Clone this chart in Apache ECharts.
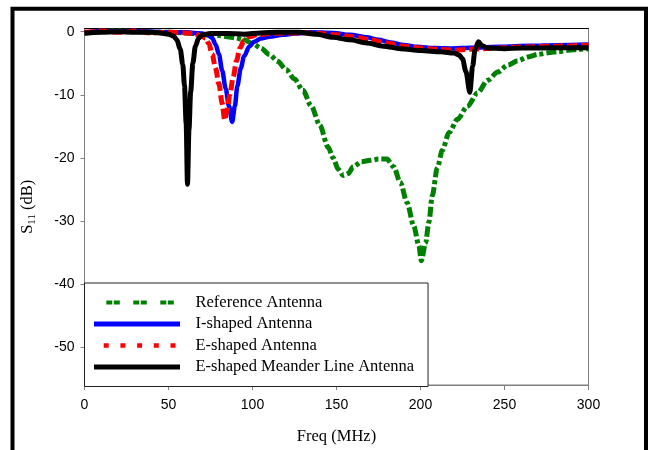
<!DOCTYPE html>
<html>
<head>
<meta charset="utf-8">
<script src="https://cdn.jsdelivr.net/npm/echarts@6/dist/echarts.min.js"></script>
<style>
  html, body { margin: 0; padding: 0; background: #fff; }
  #chart { width: 654px; height: 450px; }
</style>
</head>
<body>
<div id="chart"></div>
<script>
// Return loss S11 (dB) versus frequency (MHz) for four antenna designs.
const seriesNames = ['Reference Antenna', 'I-shaped Antenna', 'E-shaped Antenna', 'E-shaped Meander Line Antenna'];

const refFreq = [0, 10, 20, 30, 40, 50, 60, 65, 70, 75, 80, 85, 90, 95, 100, 105, 110, 115, 120, 125, 130, 135, 140, 145, 148, 151, 154, 157, 160, 165, 170, 175, 180, 184, 188, 192, 196, 199, 200.5, 203, 205, 207, 210, 213, 217, 222, 228, 234, 240, 246, 252, 258, 264, 270, 276, 282, 288, 294, 300];
const refS11 = [-0.3, 0, 0.1, 0, -0.1, -0.1, -0.2, -0.3, -0.5, -0.6, -0.6, -0.8, -1.0, -1.3, -1.9, -2.6, -3.6, -4.7, -6.0, -7.5, -9.3, -11.8, -14.8, -18.3, -20.0, -21.8, -22.8, -22.5, -21.4, -20.6, -20.4, -20.2, -20.2, -21.4, -23.9, -27.1, -30.8, -33.9, -36.3, -33.5, -30.2, -26.0, -21.6, -18.8, -16.0, -13.9, -11.8, -9.7, -7.7, -6.4, -5.3, -4.6, -4.0, -3.6, -3.35, -3.15, -2.95, -2.8, -2.7];

const iFreq = [0, 10, 20, 30, 40, 50, 60, 65, 70, 73, 76, 78, 80, 82, 84, 86, 87.9, 89.5, 91, 93, 95, 98, 101, 105, 110, 118, 125, 135, 148, 158, 168, 175, 182, 190, 198, 208, 218, 230, 248, 265, 282, 300];
const iS11 = [-0.2, 0.1, 0, 0.1, 0, -0.1, -0.1, -0.2, -0.3, -0.5, -1.0, -2.0, -3.6, -6.2, -9.0, -11.8, -14.3, -11.8, -8.6, -5.8, -3.9, -2.4, -1.6, -1.1, -0.8, -0.5, -0.3, -0.1, -0.2, -0.5, -0.9, -1.3, -1.7, -2.1, -2.4, -2.6, -2.65, -2.55, -2.4, -2.25, -2.15, -2.05];

const eFreq = [0, 10, 20, 30, 40, 50, 60, 65, 69, 72, 74, 76, 78, 80, 82, 83.4, 85, 86.5, 88.5, 90.5, 92.5, 95, 98, 103, 110, 120, 130, 140, 150, 160, 170, 180, 190, 200, 210, 220, 230, 245, 260, 280, 300];
const eS11 = [-0.1, 0.1, -0.1, 0.1, -0.2, -0.1, -0.2, -0.3, -0.6, -1.0, -1.9, -3.6, -5.8, -8.3, -11.4, -14.0, -12.3, -10.0, -7.2, -4.6, -2.6, -1.4, -0.8, -0.5, -0.3, -0.2, -0.2, -0.3, -0.5, -0.8, -1.3, -1.8, -2.3, -2.6, -2.8, -2.9, -2.8, -2.6, -2.45, -2.3, -2.15];

const meanderFreq = [0, 10, 20, 30, 40, 45, 50, 53, 55, 57, 58.5, 59.5, 60.5, 61.3, 62.2, 63.2, 64.5, 66, 68, 70, 75, 85, 95, 105, 115, 128, 138, 148, 158, 168, 178, 188, 200, 212, 220, 223, 225, 227, 229.4, 231, 232.5, 234.5, 236.5, 240, 250, 260, 280, 300];
const meanderS11 = [-0.2, -0.1, 0, -0.1, -0.1, -0.2, -0.4, -0.7, -1.3, -2.8, -5.2, -8.5, -14.5, -24.2, -15.5, -9.5, -5.0, -2.3, -1.0, -0.5, -0.3, -0.3, -0.4, -0.2, -0.1, -0.1, -0.4, -0.9, -1.3, -1.8, -2.3, -2.7, -3.0, -3.2, -3.4, -3.7, -4.3, -6.3, -9.6, -5.5, -2.8, -1.6, -2.2, -2.6, -2.7, -2.6, -2.55, -2.55];

const xTicks = [0, 50, 100, 150, 200, 250, 300];
const yTicks = [0, -10, -20, -30, -40, -50];

const pairs = (xs, ys) => xs.map((x, i) => [x, ys[i]]);

const serif = 'Liberation Serif, Times New Roman, serif';
const sans = 'Liberation Sans, Arial, sans-serif';
const axisGray = '#808080';

const chart = echarts.init(document.getElementById('chart'), null, { renderer: 'canvas' });

const lineSeries = (name, data, color, width, dash) => ({
  name,
  type: 'line',
  data,
  showSymbol: false,
  symbol: 'none',
  smooth: 0.3,
  smoothMonotone: 'x',
  clip: true,
  lineStyle: { color, width, type: dash || 'solid', cap: 'butt', join: 'round' },
  itemStyle: { color },
  emphasis: { disabled: true }
});

// legend keys are plain strokes, so the marker drawn by line series is hidden
const noMarker = { color: 'rgba(0,0,0,0)', borderColor: 'rgba(0,0,0,0)', borderWidth: 0, opacity: 0 };

chart.setOption({
  animation: false,
  backgroundColor: '#fff',
  grid: {
    left: 84.5, right: 65.5, top: 28.5, bottom: 63.3,
    show: true, borderColor: axisGray, borderWidth: 1
  },
  xAxis: [{
    type: 'value', min: 0, max: 300, interval: 50,
    name: 'Freq (MHz)', nameLocation: 'middle', nameGap: 43,
    nameTextStyle: { fontFamily: serif, fontSize: 16.5, color: '#000' },
    axisLine: { show: true, onZero: false, lineStyle: { color: axisGray, width: 1 } },
    axisTick: { show: true, inside: false, length: 5, lineStyle: { color: axisGray } },
    axisLabel: { fontFamily: sans, fontSize: 14, color: '#000', margin: 13,
      customValues: xTicks },
    splitLine: { show: false }
  }, {
    type: 'value', min: 0, max: 300, position: 'top',
    axisLine: { show: true, onZero: false, lineStyle: { color: '#000', width: 1 } },
    axisTick: { show: false }, axisLabel: { show: false }, splitLine: { show: false }
  }],
  yAxis: [{
    type: 'value', min: -56, max: 0.5,
    name: '{s|S}{sub|11}{s| (dB)}', nameLocation: 'middle', nameRotate: 90, nameGap: 47,
    nameTextStyle: {
      rich: {
        s: { fontFamily: serif, fontSize: 16.5, color: '#000' },
        sub: { fontFamily: serif, fontSize: 11, color: '#000', padding: [9, 0, 0, 0] }
      }
    },
    axisLine: { show: true, onZero: false, lineStyle: { color: axisGray, width: 1 } },
    axisTick: { show: true, inside: false, length: 4, lineStyle: { color: axisGray }, customValues: yTicks },
    axisLabel: { fontFamily: sans, fontSize: 14, color: '#000', margin: 10, customValues: yTicks },
    splitLine: { show: false }
  }],
  legend: {
    orient: 'vertical',
    left: 84.5, top: 283,
    itemWidth: 86, itemHeight: 14, itemGap: 3.5,
    padding: [10.5, 14, 10.5, 7],
    borderColor: '#222', borderWidth: 1, borderRadius: 0,
    backgroundColor: '#fff',
    selectedMode: false,
    itemStyle: noMarker,
    textStyle: { fontFamily: serif, fontSize: 16.5, color: '#000', lineHeight: 18, padding: [0, 0, 0, 10.5] },
    data: [
      { name: seriesNames[0], itemStyle: noMarker, lineStyle: { type: [6, 1.5, 6, 13.5], dashOffset: 14.7, width: 4 } },
      { name: seriesNames[1], itemStyle: noMarker, lineStyle: { width: 5 } },
      { name: seriesNames[2], itemStyle: noMarker, lineStyle: { type: [5, 11.7], dashOffset: 7, width: 4.5 } },
      { name: seriesNames[3], itemStyle: noMarker, lineStyle: { width: 5 } }
    ]
  },
  graphic: [{
    type: 'rect', silent: true, z: 100,
    shape: { x: 12.5, y: 8.8, width: 633.5, height: 520 },
    style: { fill: 'none', stroke: '#000', lineWidth: 4 }
  }],
  series: [
    lineSeries(seriesNames[0], pairs(refFreq, refS11), '#008000', 5, [10, 3, 4, 3]),
    lineSeries(seriesNames[1], pairs(iFreq, iS11), '#0000ff', 4.5),
    lineSeries(seriesNames[2], pairs(eFreq, eS11), '#ff0000', 5, [10, 4]),
    lineSeries(seriesNames[3], pairs(meanderFreq, meanderS11), '#000000', 5)
  ]
});
</script>
</body>
</html>
